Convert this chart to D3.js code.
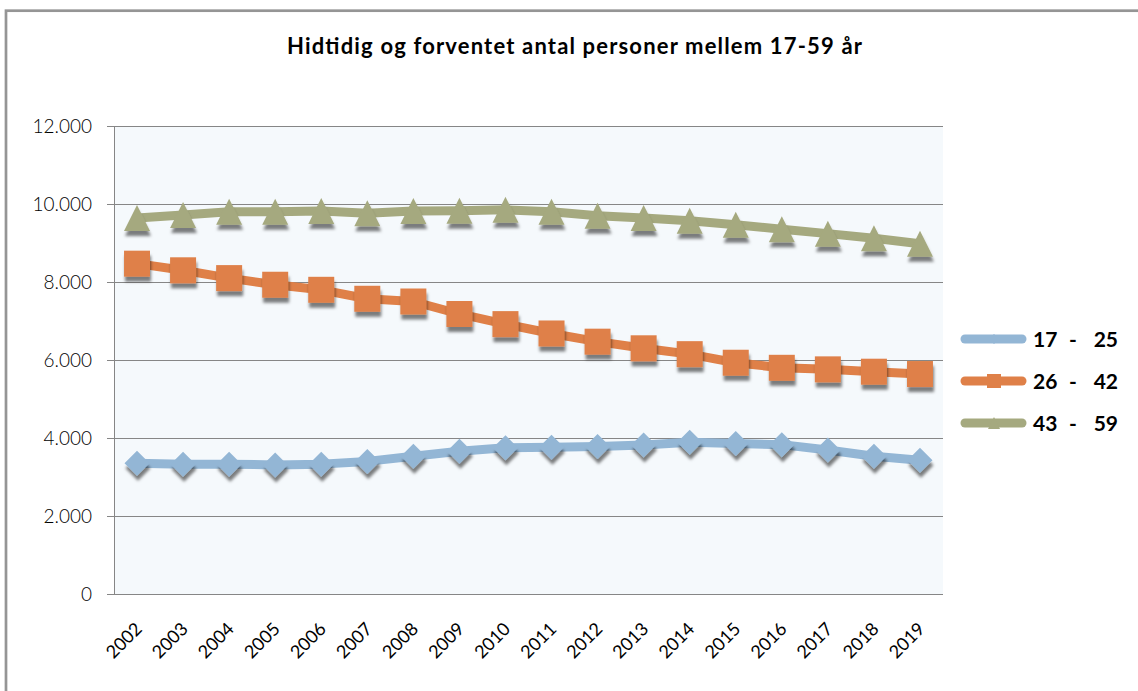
<!DOCTYPE html>
<html>
<head>
<meta charset="utf-8">
<script src="https://cdn.jsdelivr.net/npm/d3@7"></script>
<style>
    html, body { margin: 0; padding: 0; background: #ffffff; }
    #chart { width: 1138px; height: 691px; overflow: hidden; }
    text { font-family: Lato, 'DejaVu Sans', sans-serif; }
</style>
</head>
<body>
<div id="chart"></div>
<script>
'use strict';

// categories and values
let years = ['2002', '2003', '2004', '2005', '2006', '2007', '2008', '2009', '2010',
    '2011', '2012', '2013', '2014', '2015', '2016', '2017', '2018', '2019'];
let seriesNames = ['17 - 25', '26 - 42', '43 - 59'];
let age17to25 = [3350, 3330, 3330, 3310, 3330, 3400, 3530, 3660, 3750,
    3760, 3780, 3820, 3890, 3860, 3830, 3690, 3530, 3430];
let age26to42 = [8470, 8300, 8100, 7930, 7800, 7570, 7500, 7180, 6920,
    6680, 6470, 6300, 6150, 5930, 5800, 5760, 5700, 5640];
let age43to59 = [9640, 9720, 9800, 9800, 9820, 9760, 9820, 9830, 9850,
    9800, 9700, 9640, 9570, 9470, 9350, 9240, 9120, 8980];
let yTicks = [0, 2000, 4000, 6000, 8000, 10000, 12000];
let chartTitle = 'Hidtidig og forventet antal personer mellem 17-59 år';

let width = 1138;
let height = 691;
let plot = {left: 114, right: 943, top: 126, bottom: 594};
let tickLen = 7;

let colors = ['#93b6d5', '#df8048', '#a5a97f'];
let shapes = ['diamond', 'square', 'triangle'];

let series = seriesNames.map(function(name, i) {
    return {name: name, values: [age17to25, age26to42, age43to59][i], color: colors[i], shape: shapes[i]};
});

// danish number format: 12.000
let daLocale = d3.formatLocale({decimal: ',', thousands: '.', grouping: [3], currency: ['', ' kr.']});
let fmt = daLocale.format(',d');

let svg = d3.select('#chart')
    .append('svg')
    .attr('width', width)
    .attr('height', height);

let defs = svg.append('defs');
let shadow = defs.append('filter')
    .attr('id', 'marker-shadow')
    .attr('x', '-50%').attr('y', '-50%')
    .attr('width', '200%').attr('height', '200%');
shadow.append('feDropShadow')
    .attr('dx', 1)
    .attr('dy', 5)
    .attr('stdDeviation', 1.8)
    .attr('flood-color', '#000')
    .attr('flood-opacity', 0.5);

// outer frame of the chart object
svg.append('rect')
    .attr('x', 6)
    .attr('y', 10.7)
    .attr('width', width + 20)
    .attr('height', height + 20)
    .attr('fill', 'none')
    .attr('stroke', '#959595')
    .attr('stroke-width', 2.7);

// title, stretched to the width it has in the original
svg.append('text')
    .attr('x', 287)
    .attr('y', 54)
    .attr('font-size', 22)
    .attr('font-weight', 'bold')
    .attr('textLength', 575)
    .attr('lengthAdjust', 'spacing')
    .attr('fill', '#000')
    .text(chartTitle);

let x = d3.scaleBand()
    .domain(years)
    .range([plot.left, plot.right]);

let y = d3.scaleLinear()
    .domain([0, 12000])
    .range([plot.bottom, plot.top]);

// plot background
svg.append('rect')
    .attr('x', plot.left)
    .attr('y', plot.top)
    .attr('width', plot.right - plot.left)
    .attr('height', plot.bottom - plot.top)
    .attr('fill', '#f5f9fc');

// y axis with gridlines (gridline starts at the outer tick end)
let yAxis = d3.axisLeft(y)
    .tickValues(yTicks)
    .tickFormat(fmt)
    .tickSize(-(plot.right - plot.left + tickLen))
    .tickPadding(0);

let gY = svg.append('g')
    .attr('class', 'y axis')
    .attr('transform', 'translate(' + (plot.left - tickLen) + ',0)')
    .call(yAxis);
gY.select('.domain').remove();
gY.selectAll('.tick line')
    .attr('stroke', '#868686')
    .attr('shape-rendering', 'crispEdges');
gY.selectAll('.tick text')
    .attr('x', -15)
    .attr('font-size', 19)
    .attr('font-weight', 300)
    .attr('font-family', 'Lato, sans-serif')
    .attr('fill', '#000');

// vertical axis line
svg.append('line')
    .attr('x1', plot.left).attr('x2', plot.left)
    .attr('y1', plot.top).attr('y2', plot.bottom)
    .attr('stroke', '#868686')
    .attr('shape-rendering', 'crispEdges');

// x axis labels, rotated
let xAxis = d3.axisBottom(x)
    .tickSize(0)
    .tickPadding(0);

let gX = svg.append('g')
    .attr('class', 'x axis')
    .attr('transform', 'translate(0,' + plot.bottom + ')')
    .call(xAxis);
gX.select('.domain').remove();
gX.selectAll('.tick text')
    .attr('font-size', 18)
    .attr('font-family', 'Lato, sans-serif')
    .attr('fill', '#000')
    .attr('dy', 0)
    .attr('y', 0)
    .attr('text-anchor', 'end')
    .attr('transform', 'translate(6,36) rotate(-45)');

// marker shapes
function markerPath(shape, s) {
    if (shape === 'diamond') {
        return 'M0,' + (-s) + 'L' + s + ',0L0,' + s + 'L' + (-s) + ',0Z';
    }
    if (shape === 'square') {
        return 'M' + (-s) + ',' + (-s) + 'H' + s + 'V' + s + 'H' + (-s) + 'Z';
    }
    return 'M0,' + (-s) + 'L' + s + ',' + s + 'L' + (-s) + ',' + s + 'Z';
}
let markerSize = {diamond: 12.5, square: 13, triangle: 13};

let line = d3.line()
    .x(function(d, i) { return x(years[i]) + x.bandwidth() / 2; })
    .y(function(d) { return y(d); });

let gSeries = svg.selectAll('.series')
    .data(series)
    .enter()
    .append('g')
    .attr('class', 'series');

gSeries.each(function(s) {
    let g = d3.select(this);
    g.append('path')
        .attr('d', line(s.values))
        .attr('fill', 'none')
        .attr('stroke', s.color)
        .attr('stroke-width', 9)
        .attr('stroke-linejoin', 'round')
        .attr('stroke-linecap', 'round');

    g.selectAll('.marker')
        .data(s.values)
        .enter()
        .append('path')
        .attr('class', 'marker')
        .attr('transform', function(d, i) {
            return 'translate(' + (x(years[i]) + x.bandwidth() / 2) + ',' + y(d) + ')';
        })
        .attr('d', markerPath(s.shape, markerSize[s.shape]))
        .attr('fill', s.color)
        .attr('filter', 'url(#marker-shadow)');
});

// legend
let legend = svg.append('g')
    .attr('class', 'legend')
    .attr('transform', 'translate(965,339)');

let legendRows = legend.selectAll('.legend-row')
    .data(series)
    .enter()
    .append('g')
    .attr('class', 'legend-row')
    .attr('transform', function(d, i) { return 'translate(0,' + (i * 42) + ')'; });

legendRows.append('line')
    .attr('x1', 0).attr('x2', 57)
    .attr('y1', 0).attr('y2', 0)
    .attr('stroke', function(d) { return d.color; })
    .attr('stroke-width', 9)
    .attr('stroke-linecap', 'round');

legendRows.append('path')
    .attr('transform', 'translate(29,0)')
    .attr('d', function(d) {
        let s = {diamond: 5, square: 7, triangle: 6}[d.shape];
        return markerPath(d.shape, s);
    })
    .attr('fill', function(d) { return d.color; });

// label split into "17", "-", "25" with the wide spacing of the original
legendRows.each(function(d) {
    let parts = d.name.split(' - ');
    let t = d3.select(this).append('text')
        .attr('y', 8)
        .attr('font-size', 21)
        .attr('font-weight', 'bold')
        .attr('fill', '#000');
    t.append('tspan').attr('x', 68).text(parts[0]);
    t.append('tspan').attr('x', 108).attr('text-anchor', 'middle').text('-');
    t.append('tspan').attr('x', 153).attr('text-anchor', 'end').text(parts[1]);
});
</script>
</body>
</html>
